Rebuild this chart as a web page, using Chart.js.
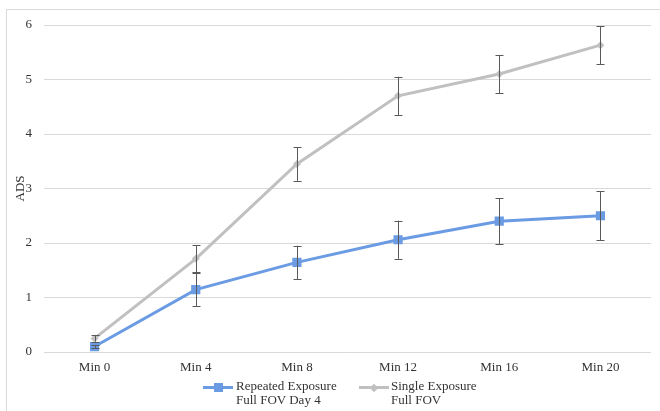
<!DOCTYPE html>
<html>
<head>
<meta charset="utf-8">
<script src="https://cdn.jsdelivr.net/npm/chart.js@4"></script>
<style>
  html, body { margin: 0; padding: 0; background: #fff; overflow: hidden; }
  #wrap { position: relative; width: 660px; height: 411px; }
  #frame { position: absolute; left: 6px; top: 9px; width: 700px; height: 500px;
           border-left: 1px solid #d9d9d9; border-top: 1px solid #d9d9d9; box-sizing: border-box; }
  canvas { position: absolute; left: 0; top: 0; }
  .leg { position: absolute; top: 379px; font: 13px "Liberation Serif", serif; color: #333; line-height: 14.3px; }
  .sym { position: absolute; top: 7px; width: 30px; height: 3px; }
  .sym i { position: absolute; left: 50%; top: 50%; }
  .txt { position: absolute; white-space: nowrap; }
</style>
</head>
<body>
<div id="wrap">
  <div id="frame"></div>
  <canvas id="c" width="660" height="411"></canvas>
  <div class="leg" id="leg1" style="left:203px">
    <div class="sym" style="background:#6a9be3;left:0"><i style="width:9px;height:9px;margin:-4.5px 0 0 -4.5px;background:#6a9be3"></i></div>
    <div class="txt" style="left:33px">Repeated Exposure<br>Full FOV Day 4</div>
  </div>
  <div class="leg" id="leg2" style="left:359px">
    <div class="sym" style="background:#c0c0c0;left:0"><i style="width:6px;height:6px;margin:-3px 0 0 -3px;background:#c0c0c0;transform:rotate(45deg)"></i></div>
    <div class="txt" style="left:32px">Single Exposure<br>Full FOV</div>
  </div>
</div>
<script>
const categories = ['Min 0', 'Min 4', 'Min 8', 'Min 12', 'Min 16', 'Min 20'];
const repeatedValues = [0.10, 1.145, 1.645, 2.06, 2.40, 2.50];
const repeatedErrors = [0.03, 0.305, 0.305, 0.35, 0.42, 0.45];
const singleValues = [0.25, 1.71, 3.45, 4.70, 5.10, 5.63];
const singleErrors = [0.06, 0.245, 0.31, 0.35, 0.35, 0.35];
const yTicks = [0, 1, 2, 3, 4, 5, 6];

const FONT = '"Liberation Serif", serif';

const errorBars = {
  id: 'errorBars',
  afterDatasetsDraw(chart) {
    const ctx = chart.ctx;
    const y = chart.scales.y;
    ctx.save();
    ctx.strokeStyle = '#595959';
    ctx.lineWidth = 1;
    chart.data.datasets.forEach((ds, di) => {
      const meta = chart.getDatasetMeta(di);
      meta.data.forEach((pt, i) => {
        const v = ds.data[i], e = ds.errors[i];
        const x = Math.round(pt.x) + 0.5;
        const y1 = y.getPixelForValue(v + e), y2 = y.getPixelForValue(v - e);
        ctx.beginPath();
        ctx.moveTo(x, y1); ctx.lineTo(x, y2);
        ctx.moveTo(x - 4, Math.round(y1) + 0.5); ctx.lineTo(x + 4, Math.round(y1) + 0.5);
        ctx.moveTo(x - 4, Math.round(y2) + 0.5); ctx.lineTo(x + 4, Math.round(y2) + 0.5);
        ctx.stroke();
      });
    });
    ctx.restore();
  }
};

new Chart(document.getElementById('c'), {
  type: 'line',
  data: {
    labels: categories,
    datasets: [
      {
        label: 'Single Exposure Full FOV',
        data: singleValues,
        errors: singleErrors,
        borderColor: '#c0c0c0',
        backgroundColor: '#c0c0c0',
        borderWidth: 3,
        pointStyle: 'rectRot',
        pointRadius: 4,
        pointBorderWidth: 0,
        tension: 0
      },
      {
        label: 'Repeated Exposure Full FOV Day 4',
        data: repeatedValues,
        errors: repeatedErrors,
        borderColor: '#6a9be3',
        backgroundColor: '#6a9be3',
        borderWidth: 3,
        pointStyle: 'rect',
        pointRadius: 6.5,
        pointBorderWidth: 0,
        tension: 0
      }
    ]
  },
  options: {
    responsive: false,
    animation: false,
    layout: { padding: { left: 8, right: 9, top: 25, bottom: 11 } },
    plugins: { legend: { display: false }, tooltip: { enabled: false } },
    scales: {
      x: {
        offset: true,
        grid: { display: false, drawTicks: false },
        border: { display: false },
        ticks: { font: { family: FONT, size: 13 }, color: '#333', padding: 8 },
        afterFit(s) { s.height = 48; }
      },
      y: {
        min: 0, max: 6,
        afterBuildTicks(s) { s.ticks = yTicks.map(v => ({ value: v })); },
        grid: { color: '#d9d9d9', drawTicks: false },
        border: { display: false },
        ticks: { font: { family: FONT, size: 13 }, color: '#333', padding: 12 },
        title: { display: true, text: 'ADS', font: { family: FONT, size: 13 }, color: '#333', padding: { top: 5, bottom: 0 } },
        afterFit(s) { s.width = 36; }
      }
    }
  },
  plugins: [errorBars]
});
</script>
</body>
</html>
